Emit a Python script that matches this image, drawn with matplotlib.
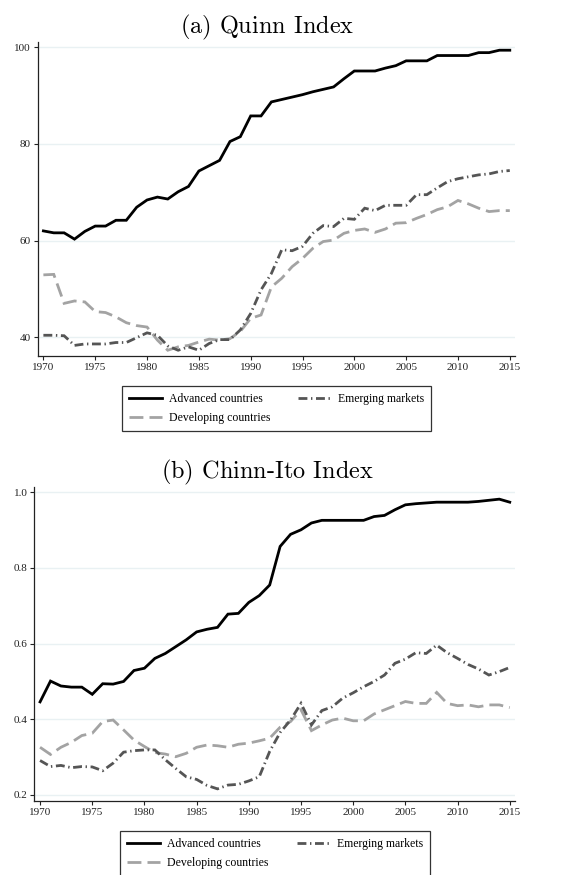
"""Capital account openness by country group: Quinn and Chinn-Ito indices, 1970-2015."""
import matplotlib
matplotlib.use("Agg")
import matplotlib.pyplot as plt
from matplotlib.lines import Line2D

years = list(range(1970, 2016))

# (a) Quinn index
quinn_adv = [62.0, 61.6, 61.6, 60.3, 61.9, 63.0, 63.0, 64.2, 64.2, 66.9,
             68.4, 69.0, 68.6, 70.1, 71.2, 74.4, 75.5, 76.6, 80.5, 81.5,
             85.8, 85.8, 88.7, 89.2, 89.7, 90.2, 90.8, 91.3, 91.8, 93.5,
             95.1, 95.1, 95.1, 95.7, 96.2, 97.2, 97.2, 97.2, 98.3, 98.3,
             98.3, 98.3, 98.9, 98.9, 99.4, 99.4]
quinn_dev = [52.9, 53.0, 47.0, 47.5, 47.3, 45.3, 45.1, 44.2, 43.0, 42.4,
             42.1, 39.4, 37.3, 38.0, 38.3, 39.0, 39.6, 39.4, 39.7, 41.2,
             43.9, 44.6, 50.4, 52.2, 54.6, 56.3, 58.4, 59.8, 60.1, 61.5,
             62.1, 62.4, 61.7, 62.4, 63.6, 63.7, 64.6, 65.4, 66.4, 67.0,
             68.3, 67.6, 66.7, 66.0, 66.2, 66.2]
quinn_em = [40.4, 40.4, 40.3, 38.3, 38.6, 38.6, 38.6, 38.9, 38.9, 39.9,
            40.9, 40.4, 38.2, 37.3, 38.0, 37.3, 38.7, 39.5, 39.5, 41.5,
            44.9, 49.8, 53.2, 58.1, 57.9, 58.8, 61.5, 63.1, 62.9, 64.6,
            64.4, 66.7, 66.2, 67.3, 67.3, 67.3, 69.5, 69.5, 70.9, 72.2,
            72.8, 73.2, 73.6, 73.8, 74.3, 74.5]

# (b) Chinn-Ito index
ci_adv = [0.446, 0.501, 0.488, 0.485, 0.485, 0.466, 0.494, 0.493, 0.500, 0.529,
          0.535, 0.561, 0.574, 0.592, 0.610, 0.631, 0.638, 0.643, 0.678, 0.680,
          0.709, 0.727, 0.755, 0.857, 0.889, 0.901, 0.919, 0.926, 0.926, 0.926,
          0.926, 0.926, 0.936, 0.939, 0.954, 0.967, 0.970, 0.972, 0.974, 0.974,
          0.974, 0.974, 0.976, 0.979, 0.982, 0.974]
ci_dev = [0.326, 0.307, 0.326, 0.339, 0.357, 0.363, 0.394, 0.398, 0.372, 0.345,
          0.328, 0.312, 0.308, 0.301, 0.310, 0.326, 0.332, 0.330, 0.326, 0.334,
          0.337, 0.343, 0.350, 0.379, 0.394, 0.425, 0.370, 0.385, 0.398, 0.403,
          0.396, 0.396, 0.414, 0.425, 0.436, 0.447, 0.442, 0.442, 0.471, 0.442,
          0.436, 0.438, 0.433, 0.438, 0.438, 0.431]
ci_em = [0.291, 0.275, 0.278, 0.272, 0.275, 0.274, 0.264, 0.284, 0.313, 0.317,
         0.319, 0.319, 0.293, 0.270, 0.248, 0.241, 0.225, 0.216, 0.226, 0.228,
         0.237, 0.248, 0.315, 0.365, 0.398, 0.442, 0.385, 0.423, 0.433, 0.456,
         0.470, 0.486, 0.500, 0.517, 0.548, 0.559, 0.576, 0.574, 0.596, 0.576,
         0.561, 0.545, 0.533, 0.517, 0.526, 0.537]

labels = ["Advanced countries", "Developing countries", "Emerging markets"]
xticks = list(range(1970, 2016, 5))

plt.rcParams["mathtext.fontset"] = "cm"
SERIF = "Liberation Serif"
GRID = "#e9f1f3"

STYLES = [
    dict(color="black", lw=2.0, ls="-"),
    dict(color="#a3a3a3", lw=2.0, ls=(0, (5.0, 2.2))),
    dict(color="#555555", lw=2.0, ls=(0, (3.2, 1.3, 0.5, 1.3))),
]


def panel(ax, series, title, title_x, yticks, ylim, yfmt):
    for y, st in zip(series, STYLES):
        ax.plot(years, y, color=st["color"], lw=st["lw"], ls=st["ls"],
                solid_joinstyle="miter", dash_joinstyle="miter")
    ax.set_xlim(1969.45, 2015.5)
    ax.set_ylim(*ylim)
    ax.set_xticks(xticks)
    ax.set_yticks(yticks)
    ax.set_yticklabels([yfmt.format(v) for v in yticks])
    for v in yticks:
        ax.axhline(v, color=GRID, lw=1.0, zorder=0)
    for s in ("top", "right"):
        ax.spines[s].set_visible(False)
    for s in ("left", "bottom"):
        ax.spines[s].set_linewidth(0.9)
        ax.spines[s].set_color("#222222")
    ax.tick_params(length=3, width=0.8, pad=2, labelsize=8, colors="#222222")
    for lab in ax.get_xticklabels() + ax.get_yticklabels():
        lab.set_family(SERIF)
    ax.set_title(title, fontsize=17.5, pad=6, x=title_x)


def legend(fig, cx, top):
    handles = [Line2D([], [], color=st["color"], lw=st["lw"], ls=st["ls"])
               for st in STYLES]
    fig.legend(handles, labels, ncol=2, loc="upper center",
               bbox_to_anchor=(cx, top), bbox_transform=fig.transFigure,
               frameon=True, fancybox=False, edgecolor="black",
               prop={"family": SERIF, "size": 8.5},
               handlelength=2.8, handletextpad=0.6, columnspacing=2.35,
               labelspacing=0.6, borderpad=0.6, borderaxespad=0)
    fig.legends[-1].get_frame().set_linewidth(0.9)


fig = plt.figure(figsize=(5.72, 8.75), dpi=100)

ax_a = fig.add_axes([0.0659, 0.5931, 0.8344, 0.3589])
panel(ax_a, [quinn_adv, quinn_dev, quinn_em], r"$\text{(a) Quinn Index}$", 0.481,
      [40, 60, 80, 100], (36.1, 101.1), "{:d}")
legend(fig, 0.4834, 0.5589)

ax_b = fig.add_axes([0.0600, 0.0846, 0.8403, 0.3592])
panel(ax_b, [ci_adv, ci_dev, ci_em], r"$\text{(b) Chinn-Ito Index}$", 0.485,
      [0.2, 0.4, 0.6, 0.8, 1.0], (0.184, 1.015), "{:.1f}")
legend(fig, 0.4808, 0.0506)

fig.savefig("out.png", dpi=100)
